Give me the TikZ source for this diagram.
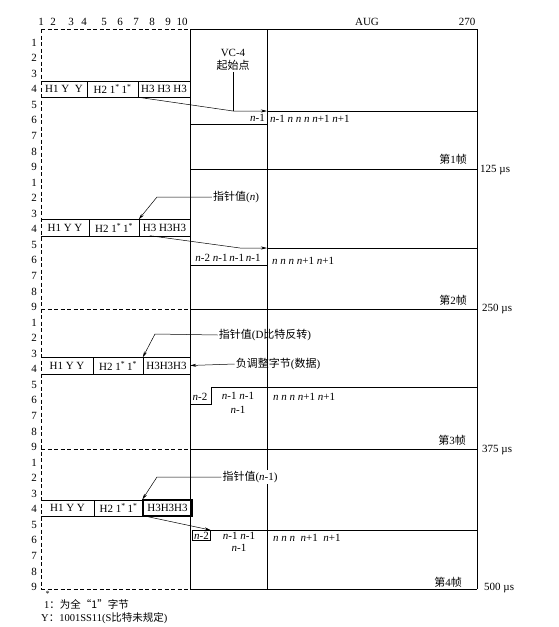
\documentclass[tikz,border=0pt]{standalone}
\usepackage{fontspec}
\setmainfont{Liberation Serif}
\newfontfamily\cjk{Noto Sans CJK SC}
\usetikzlibrary{arrows.meta}
\newcommand{\nv}{\textit{n}}
\newcommand{\cn}[1]{{\cjk #1}}
\newcommand{\ones}{1\textsuperscript{*}}
\tikzset{
  txt/.style={inner sep=1pt, font=\fontsize{11}{13}\selectfont},
  hcell/.style={txt, inner sep=0pt, minimum height=16pt},
  rule/.style={line width=0.7pt},
  dline/.style={line width=0.8pt, dash pattern=on 4pt off 2.5pt},
  ptr/.style={line width=0.5pt, -{Stealth[length=6pt,width=3pt]}}
}

\begin{document}
\begin{tikzpicture}[x=1pt,y=-1pt]
\useasboundingbox (0,0) rectangle (558,627);

% column numbers
\foreach \c/\xc in {1/41,2/53,3/71,4/84,5/104,6/120,7/136,8/152,9/168,10/182}
  \node[txt] (col\c) at (\xc,22) {\c};
\node[txt] (aug) at (367,22) {AUG};
\node[txt] (col270) at (467,22) {270};
% row numbers, 9 rows per frame
\foreach \f in {0,...,3}
  \foreach \k in {1,...,9}
    \node[txt, anchor=east] (row\f\k) at (38,{27+140*\f+15.56*\k}) {\k};

% outline
\coordinate (rgt) at (477,0);
\draw[dline] (41,29) -- (190,29);
\draw[dline] (41,29) -- (41,589);
\draw[rule] (190,29) -- (477,29) -- (477,589);
\draw[rule] (190,29) -- (190,589);
\draw[rule] (267,29) -- (267,589);
\foreach \yb in {169,309,449,589}
  \draw[rule] (190,\yb) -- (477,\yb);
\foreach \yb in {309,449,589}
  \draw[dline] (41,\yb) -- (190,\yb);

% frame 1
\draw[rule] (41,81) -- (190,81) (41,97) -- (190,97) (87,81) -- (87,97) (138,81) -- (138,97);
\node[hcell, minimum width=46pt] (hA1) at (64,89) {H1 Y\ \ Y};
\node[hcell, minimum width=51pt] (hA2) at (112.5,89) {H2 \ones\,\ones};
\node[hcell, minimum width=52pt] (hA3) at (164,89) {H3 H3 H3};
\node[txt, align=center] (vc) at (233,60) {VC-4\\\cn{起始点}};
\coordinate (bendA) at (233,111);
\coordinate (startA) at (267,111);
\draw[rule] (vc.south) -- (bendA);
\draw[ptr] (hA3.south west) -- (bendA) -- (startA);
\draw[rule] (startA) -- (477,111);
\draw[rule] (190,124) -- (267,124);
\node[txt, anchor=east] (cellA) at (266,118) {\nv-1};
\node[txt, anchor=west] (seqA) at (269,119) {\nv-1 \nv{} \nv{} \nv{} \nv+1 \nv+1};
\node[txt] (fA) at (453,159) {\cn{第}1\cn{帧}};
\node[txt, anchor=west] (tA) at (479,170) {125 µs};

% frame 2
\draw[rule] (41,219) -- (190,219) (41,236) -- (190,236) (89,219) -- (89,236) (139,219) -- (139,236);
\node[hcell, minimum width=48pt] (hB1) at (65,227.5) {H1 Y Y};
\node[hcell, minimum width=50pt] (hB2) at (114,227.5) {H2 \ones\,\ones};
\node[hcell, minimum width=51pt] (hB3) at (164.5,227.5) {H3 H3H3};
\node[txt] (pB) at (236,197) {\cn{指针值}(\nv)};
\coordinate (kneeB) at (157,197);
\draw[ptr] (pB.west) -- (kneeB) -- (hB3.north west);
\coordinate (bendB) at (240,248);
\coordinate (startB) at (267,248);
\draw[ptr] ([xshift=11pt]hB3.south west) -- (bendB) -- (startB);
\draw[rule] (startB) -- (477,248);
\draw[rule] (190,265) -- (267,265);
\node[txt] (cellB) at (228,258) {\nv-2 \nv-1\,\nv-1\,\nv-1};
\node[txt, anchor=west] (seqB) at (271,261) {\nv{} \nv{} \nv{} \nv+1 \nv+1};
\node[txt] (fB) at (453,300) {\cn{第}2\cn{帧}};
\node[txt, anchor=west] (tB) at (481,309) {250 µs};

% frame 3
\draw[rule] (41,357) -- (190,357) (41,374) -- (190,374) (93,357) -- (93,374) (143,357) -- (143,374);
\node[hcell, minimum width=52pt] (hC1) at (67,365.5) {H1 Y Y};
\node[hcell, minimum width=50pt] (hC2) at (118,365.5) {H2 \ones\,\ones};
\node[hcell, minimum width=47pt] (hC3) at (166.5,365.5) {H3H3H3};
\node[txt] (pC) at (265,335) {\cn{指针值}(D\cn{比特反转})};
\coordinate (kneeC) at (155,334);
\draw[ptr] (pC.west) -- (kneeC) -- (hC3.north west);
\node[txt] (nC) at (278,364) {\cn{负调整字节}(\cn{数据})};
\draw[ptr] (nC.west) -- (hC3.east);
\draw[rule] (190,404) -- (211,404) -- (211,387) -- (477,387);
\node[txt] (cellC0) at (200,397) {\nv-2};
\node[txt] (cellC1) at (238,396) {\nv-1 \nv-1};
\node[txt] (cellC2) at (238,410) {\nv-1};
\node[txt, anchor=west] (seqC) at (272,397) {\nv{} \nv{} \nv{} \nv+1 \nv+1};
\node[txt] (fC) at (452,440) {\cn{第}3\cn{帧}};
\node[txt, anchor=west] (tC) at (481,450) {375 µs};

% frame 4
\draw[rule] (41,500) -- (143,500) (41,516) -- (143,516) (94,500) -- (94,516);
\node[hcell, minimum width=53pt] (hD1) at (67.5,508) {H1 Y Y};
\node[hcell, minimum width=49pt] (hD2) at (118.5,508) {H2 \ones\,\ones};
\node[hcell, draw, line width=1.2pt, minimum width=49pt] (hD3) at (167.5,508) {H3H3H3};
\node[txt, fill=white] (pD) at (250,477) {\cn{指针值}(\nv-1)};
\coordinate (kneeD) at (157,477);
\draw[ptr] (pD.west) -- (kneeD) -- (hD3.north west);
\node[txt, draw, line width=0.6pt, inner sep=1.5pt] (cellD0) at (201.5,535.5) {\nv-2};
\draw[ptr] ([xshift=5pt]hD3.south west) -- (cellD0.north east);
\draw[rule] (cellD0.north east) -- (cellD0.north east -| rgt);
\node[txt] (cellD1) at (239,536) {\nv-1 \nv-1};
\node[txt] (cellD2) at (239,548) {\nv-1};
\node[txt, anchor=west] (seqD) at (272,538) {\nv{} \nv{} \nv{}\ \ \nv+1\ \ \nv+1};
\node[txt] (fD) at (448,582) {\cn{第}4\cn{帧}};
\node[txt, anchor=west] (tD) at (483,588) {500 µs};

% notes
\node[txt, inner sep=0pt, anchor=south, font=\fontsize{8}{9}\selectfont] (star) at (47.5,596.5) {*};
\node[txt, inner sep=0pt, anchor=west, font=\fontsize{10.5}{12}\selectfont] (noteA) at (44,604) {1\cn{：为全“1”字节}};
\node[txt, inner sep=0pt, anchor=west, font=\fontsize{10.5}{12}\selectfont] (noteB) at (41,618) {Y\cn{：}1001SS11(S\cn{比特未规定})};
\end{tikzpicture}
\end{document}
